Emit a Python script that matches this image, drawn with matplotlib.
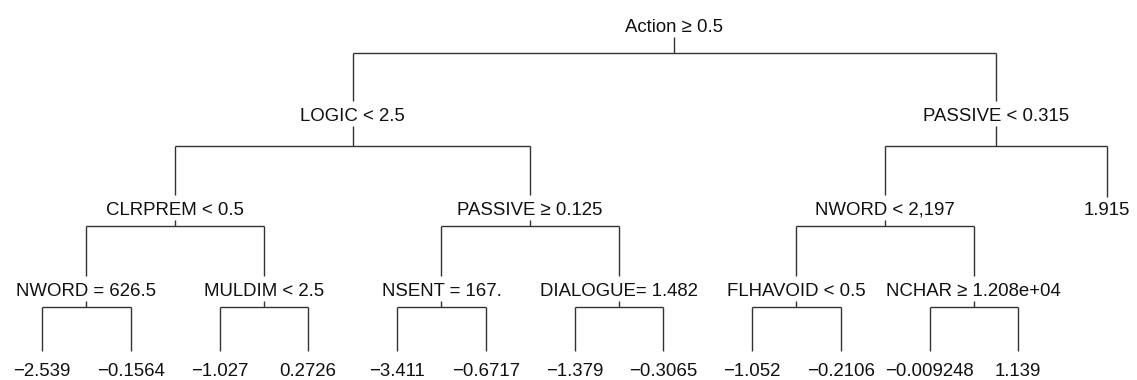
#%%

import matplotlib.pyplot as plt

plt.rcParams['font.family'] = ['Liberation Sans', 'DejaVu Sans']

#%% Regression tree: split rules and leaf means, rpart node numbering (children of n are 2n, 2n+1)

split_nodes = [1, 2, 3, 4, 5, 6, 8, 9, 10, 11, 12, 13]
split_labels = ['Action ≥ 0.5', 'LOGIC < 2.5', 'PASSIVE < 0.315', 'CLRPREM < 0.5',
                'PASSIVE ≥ 0.125', 'NWORD < 2,197', 'NWORD = 626.5', 'MULDIM < 2.5',
                'NSENT = 167.', 'DIALOGUE= 1.482', 'FLHAVOID < 0.5', 'NCHAR ≥ 1.208e+04']
leaf_nodes = [16, 17, 18, 19, 20, 21, 22, 23, 24, 25, 26, 27, 7]
leaf_values = [-2.539, -0.1564, -1.027, 0.2726, -3.411, -0.6717, -1.379,
               -0.3065, -1.052, -0.2106, -0.009248, 1.139, 1.915]

#%% Layout: leaves evenly spaced, each split centred over its two children

first_leaf_x = 42
leaf_step = 88.75
line_y = [53, 146, 226, 307]          # horizontal connector under each depth
label_y = [25, 114, 208, 289, 369]    # text centre for each depth
stem_end = {2: 197, 4: 351}           # where a leaf's stem stops
cap_half = 6.7

xpos = {n: first_leaf_x + i * leaf_step for i, n in enumerate(leaf_nodes)}
for n in sorted(split_nodes, reverse=True):
    xpos[n] = (xpos[2 * n] + xpos[2 * n + 1]) / 2

depth = lambda n: n.bit_length() - 1

#%%

fig = plt.figure(figsize=(11.37, 3.80), dpi=100)
ax = fig.add_axes([0, 0, 1, 1])
ax.set_xlim(0, 1137)
ax.set_ylim(380, 0)
ax.axis('off')

line_kw = dict(color='#333333', lw=1.0, solid_capstyle='butt')
text_kw = dict(ha='center', va='baseline', fontsize=13.4, color='#111111')

for n, lab in zip(split_nodes, split_labels):
    d = depth(n)
    x = xpos[n]
    ax.text(x, label_y[d] + cap_half, lab, **text_kw)
    ax.plot([x, x], [label_y[d] + 12, line_y[d]], **line_kw)
    ax.plot([xpos[2 * n], xpos[2 * n + 1]], [line_y[d], line_y[d]], **line_kw)
    for c in (2 * n, 2 * n + 1):
        end = label_y[d + 1] - 13 if c in split_nodes else stem_end[d + 1]
        ax.plot([xpos[c], xpos[c]], [line_y[d], end], **line_kw)

for n, v in zip(leaf_nodes, leaf_values):
    ax.text(xpos[n], label_y[depth(n)] + cap_half, f'{v:.4g}'.replace('-', '\u2212'), **text_kw)

plt.savefig('out.png', dpi=100)
